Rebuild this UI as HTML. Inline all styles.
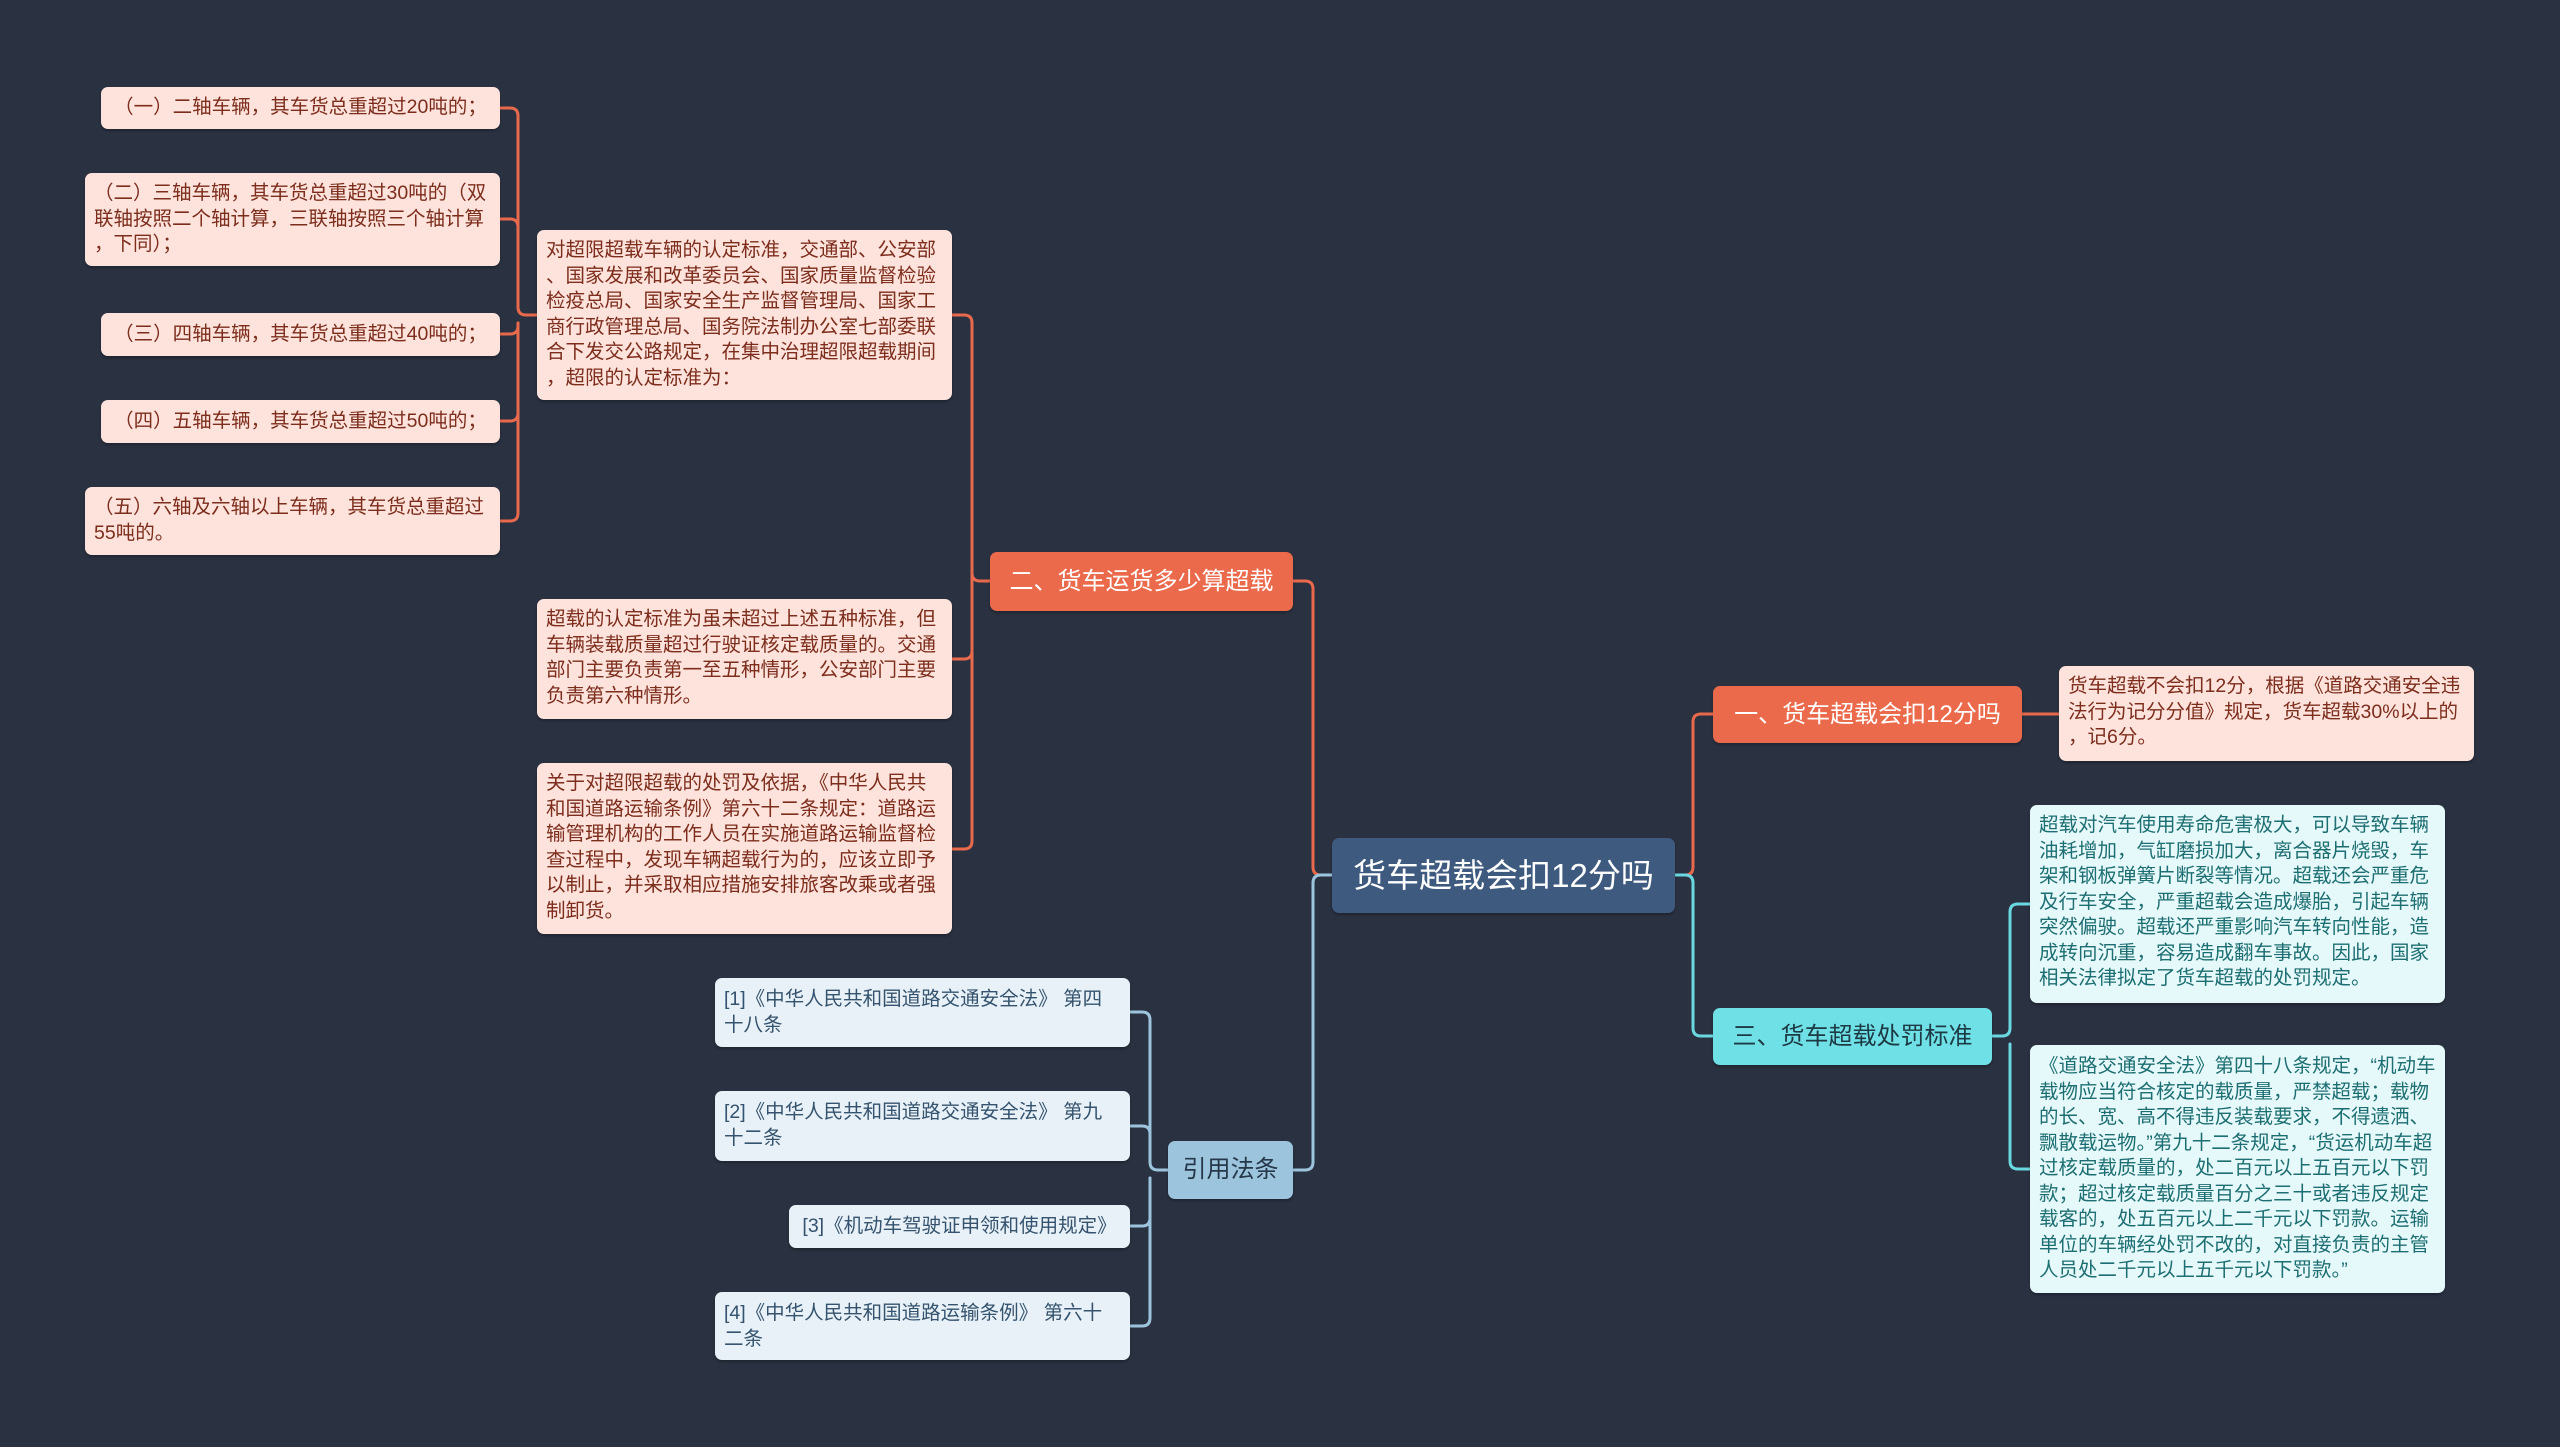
<!DOCTYPE html>
<html><head><meta charset="utf-8"><style>
html,body{margin:0;padding:0}
body{width:2560px;height:1447px;background:#2a3140;position:relative;overflow:hidden;font-family:"Liberation Sans","Noto Sans CJK SC",sans-serif}
.n{position:absolute;box-sizing:border-box;border-radius:7px;font-size:19.5px;line-height:25.5px;padding:6px 9px;word-break:break-all;line-break:anywhere;box-shadow:0 2px 2px rgba(0,0,0,.25)}
.p{background:#fde3dc;color:#7c2d1c}
.t{background:#e6f9fa;color:#1d6e72}
.b{background:#e8f1f7;color:#35536e}
.c{display:flex;align-items:center;justify-content:center;white-space:nowrap}
.o{background:#ec6a4c;color:#fff;font-size:24px}
svg{position:absolute;left:0;top:0}
</style></head><body>
<svg width="2560" height="1447" fill="none" stroke-width="3" stroke-linecap="round">
<g stroke="#e9694c">
<path d="M1675 875 H1685 Q1693 875 1693 867 V722 Q1693 714 1701 714 H1713"/>
<path d="M2022 714 H2059"/>
<path d="M1332 875 H1321 Q1313 875 1313 867 V589 Q1313 581 1305 581 H1293"/>
<path d="M990 581 H980 Q972 581 972 573 V323 Q972 315 964 315 H952"/>
<path d="M972 573 V651 Q972 659 964 659 H952"/>
<path d="M972 589 V841 Q972 849 964 849 H952"/>
<path d="M537 315 H526 Q518 315 518 307 V116 Q518 108 510 108 H500"/>
<path d="M518 307 V227 Q518 219 510 219 H500"/>
<path d="M518 323 V326 Q518 334 510 334 H500"/>
<path d="M518 323 V413 Q518 421 510 421 H500"/>
<path d="M518 323 V513 Q518 521 510 521 H500"/>
</g>
<g stroke="#6ad8e0">
<path d="M1675 875 H1685 Q1693 875 1693 883 V1028 Q1693 1036 1701 1036 H1713"/>
<path d="M1992 1036 H2002 Q2010 1036 2010 1028 V912 Q2010 904 2018 904 H2030"/>
<path d="M2010 1044 V1161 Q2010 1169 2018 1169 H2030"/>
</g>
<g stroke="#9cc5dd">
<path d="M1332 875 H1321 Q1313 875 1313 883 V1162 Q1313 1170 1305 1170 H1293"/>
<path d="M1168 1170 H1158 Q1150 1170 1150 1162 V1020 Q1150 1012 1142 1012 H1130"/>
<path d="M1150 1162 V1134 Q1150 1126 1142 1126 H1130"/>
<path d="M1150 1178 V1218 Q1150 1226 1142 1226 H1130"/>
<path d="M1150 1178 V1318 Q1150 1326 1142 1326 H1130"/>
</g>
</svg>
<div class="n p" style="left:101px;top:87px;width:399px;height:42px;display:flex;align-items:center;justify-content:center">（一）二轴车辆，其车货总重超过20吨的；</div>
<div class="n p" style="left:85px;top:173px;width:415px;height:93px;padding-top:8px">（二）三轴车辆，其车货总重超过30吨的（双联轴按照二个轴计算，三联轴按照三个轴计算，下同）；</div>
<div class="n p" style="left:101px;top:313px;width:399px;height:43px;display:flex;align-items:center;justify-content:center">（三）四轴车辆，其车货总重超过40吨的；</div>
<div class="n p" style="left:101px;top:400px;width:399px;height:43px;display:flex;align-items:center;justify-content:center">（四）五轴车辆，其车货总重超过50吨的；</div>
<div class="n p" style="left:85px;top:487px;width:415px;height:68px;padding-top:8px">（五）六轴及六轴以上车辆，其车货总重超过55吨的。</div>
<div class="n p" style="left:537px;top:230px;width:415px;height:170px;padding-top:8px">对超限超载车辆的认定标准，交通部、公安部、国家发展和改革委员会、国家质量监督检验检疫总局、国家安全生产监督管理局、国家工商行政管理总局、国务院法制办公室七部委联合下发交公路规定，在集中治理超限超载期间，超限的认定标准为：</div>
<div class="n p" style="left:537px;top:599px;width:415px;height:120px;padding-top:8px">超载的认定标准为虽未超过上述五种标准，但车辆装载质量超过行驶证核定载质量的。交通部门主要负责第一至五种情形，公安部门主要负责第六种情形。</div>
<div class="n p" style="left:537px;top:763px;width:415px;height:171px;padding-top:8px">关于对超限超载的处罚及依据，《中华人民共和国道路运输条例》第六十二条规定：道路运输管理机构的工作人员在实施道路运输监督检查过程中，发现车辆超载行为的，应该立即予以制止，并采取相应措施安排旅客改乘或者强制卸货。</div>
<div class="n c o" style="left:990px;top:552px;width:303px;height:59px">二、货车运货多少算超载</div>
<div class="n c" style="left:1332px;top:838px;width:343px;height:75px;background:#3f5a7f;color:#fff;font-size:33px">货车超载会扣12分吗</div>
<div class="n c o" style="left:1713px;top:686px;width:309px;height:57px">一、货车超载会扣12分吗</div>
<div class="n p" style="left:2059px;top:666px;width:415px;height:95px;padding-top:8px">货车超载不会扣12分，根据《道路交通安全违法行为记分分值》规定，货车超载30%以上的，记6分。</div>
<div class="n c" style="left:1713px;top:1008px;width:279px;height:57px;background:#6fe0e6;color:#1d3a44;font-size:24px">三、货车超载处罚标准</div>
<div class="n t" style="left:2030px;top:805px;width:415px;height:198px;padding-top:8px">超载对汽车使用寿命危害极大，可以导致车辆油耗增加，气缸磨损加大，离合器片烧毁，车架和钢板弹簧片断裂等情况。超载还会严重危及行车安全，严重超载会造成爆胎，引起车辆突然偏驶。超载还严重影响汽车转向性能，造成转向沉重，容易造成翻车事故。因此，国家相关法律拟定了货车超载的处罚规定。</div>
<div class="n t" style="left:2030px;top:1045px;width:415px;height:248px;padding-top:9px">《道路交通安全法》第四十八条规定，“机动车载物应当符合核定的载质量，严禁超载；载物的长、宽、高不得违反装载要求，不得遗洒、飘散载运物。”第九十二条规定，“货运机动车超过核定载质量的，处二百元以上五百元以下罚款；超过核定载质量百分之三十或者违反规定载客的，处五百元以上二千元以下罚款。运输单位的车辆经处罚不改的，对直接负责的主管人员处二千元以上五千元以下罚款。”</div>
<div class="n c" style="left:1168px;top:1141px;width:125px;height:58px;background:#9cc5dd;color:#26374a;font-size:24px">引用法条</div>
<div class="n b" style="left:715px;top:978px;width:415px;height:69px;padding-top:9px">[1]《中华人民共和国道路交通安全法》 第四十八条</div>
<div class="n b" style="left:715px;top:1091px;width:415px;height:70px;padding-top:9px">[2]《中华人民共和国道路交通安全法》 第九十二条</div>
<div class="n b c" style="left:789px;top:1205px;width:341px;height:43px">[3]《机动车驾驶证申领和使用规定》</div>
<div class="n b" style="left:715px;top:1292px;width:415px;height:68px;padding-top:9px">[4]《中华人民共和国道路运输条例》 第六十二条</div>
</body></html>
